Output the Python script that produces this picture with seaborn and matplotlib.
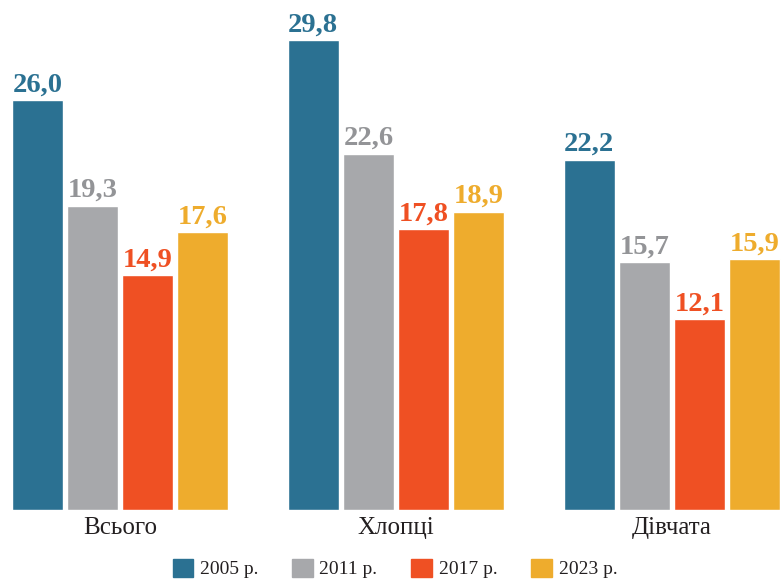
import seaborn as sns
import pandas as pd
from matplotlib import pyplot as plt
from matplotlib.patches import Patch

# chart values
groups = ["Всього", "Хлопці", "Дівчата"]
years = ["2005 р.", "2011 р.", "2017 р.", "2023 р."]
v2005 = [26.0, 29.8, 22.2]
v2011 = [19.3, 22.6, 15.7]
v2017 = [14.9, 17.8, 12.1]
v2023 = [17.6, 18.9, 15.9]
colors = ["#2B7192", "#A7A8AB", "#EF5023", "#EEAC2D"]
label_colors = ["#2B7192", "#939497", "#EF5023", "#EEAC2D"]

rows = []
for year, vals in zip(years, [v2005, v2011, v2017, v2023]):
    for g, v in zip(groups, vals):
        rows.append({"group": g, "year": year, "value": v})
df = pd.DataFrame(rows)

sns.set_style("white")
plt.rcParams["font.family"] = ["Liberation Serif", "DejaVu Serif"]

fig = plt.figure(figsize=(7.82, 5.83), dpi=100)
ax = fig.add_axes([0, 73 / 583, 1, 510 / 583])
sns.barplot(data=df, x="group", y="value", hue="year", palette=colors,
            width=0.8, gap=0.08, saturation=1, ax=ax, legend=False)

# value labels above bars, decimal comma
for cont, c in zip(ax.containers, label_colors):
    ax.bar_label(cont, labels=[f"{b.get_height():.1f}".replace(".", ",") for b in cont],
                 color=c, fontsize=20.5, fontweight="bold", padding=2)

ax.set_xlim(-0.435, 2.399)
ax.set_ylim(0, 32.34)
ax.set_xlabel("")
ax.set_ylabel("")
ax.set_yticks([])
ax.tick_params(axis="x", length=0, pad=5, labelsize=18, colors="#231F20")
sns.despine(ax=ax, left=True, bottom=True)

handles = [Patch(color=c, label=y) for c, y in zip(colors, years)]
fig.legend(handles=handles, loc="lower center", bbox_to_anchor=(0.505, -0.022), ncol=4,
           frameon=False, fontsize=14, handlelength=1.05, handleheight=1.05,
           handletextpad=0.35, columnspacing=1.75, labelcolor="#231F20")

plt.savefig("out.png", dpi=100)
